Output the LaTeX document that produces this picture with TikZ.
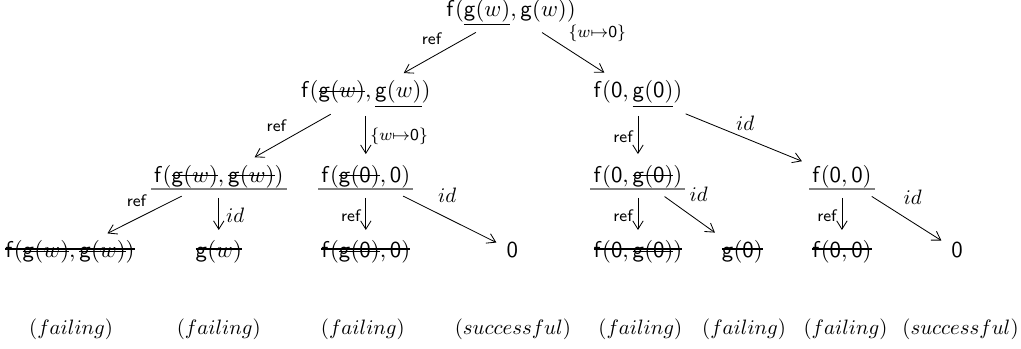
\documentclass[tikz,border=0pt]{standalone}
\usepackage{amsmath}
\usepackage{xcolor}
\usetikzlibrary{arrows.meta}
\newlength{\strklen}
\newlength{\glinelen}
\newcommand{\strk}[2][0.6ex]{\mbox{\settowidth{\strklen}{$#2$}\rlap{$#2$}\rule[#1]{\strklen}{0.5pt}}}
\newcommand{\gline}[1]{\mbox{\settowidth{\glinelen}{$#1$}\rlap{$#1$}\hspace*{-1.5pt}\textcolor{black!50}{\rule[-3.9pt]{\dimexpr\glinelen+3pt\relax}{1pt}}\hspace*{-1.5pt}}}
\newcommand{\fsym}{\mathsf{f}}
\newcommand{\gsym}{\mathsf{g}}
\newcommand{\zsym}{\mathsf{0}}
\newcommand{\sbst}{$\{w{\mapsto}\zsym\}$}
\tikzstyle{term}=[inner sep=2pt,anchor=base,font=\fontsize{11}{13}\selectfont]
\tikzstyle{outc}=[inner sep=2pt,anchor=base]
\tikzstyle{rw}=[->,>={Straight Barb[length=4pt,width=5pt]},shorten <=1.5pt,shorten >=3pt]
\tikzstyle{lbl}=[font=\footnotesize,inner sep=2pt]

\begin{document}
\begin{tikzpicture}[rw]
\useasboundingbox (0,0) rectangle (17.22,-5.87);
\node[term] (T) at (8.62,-0.27) {$\fsym(\underline{\gsym(w)},\gsym(w))$};
\node[term] (P) at (6.17,-1.65) {$\fsym(\strk{\gsym(w)},\underline{\gsym(w)})$};
\node[term] (Q) at (10.76,-1.65) {$\fsym(\zsym,\underline{\gsym(\zsym)})$};
\node[term] (P1) at (3.69,-3.07) {$\gline{\fsym(\strk{\gsym(w)},\strk{\gsym(w)})}$};
\node[term] (P2) at (6.17,-3.07) {$\gline{\fsym(\strk{\gsym(\zsym)},\zsym)}$};
\node[term] (Q1) at (10.76,-3.07) {$\gline{\fsym(\zsym,\strk{\gsym(\zsym)})}$};
\node[term] (Q2) at (14.20,-3.07) {$\gline{\fsym(\zsym,\zsym)}$};
\node[term] (P11) at (1.18,-4.35) {$\strk[0.85ex]{\fsym(\strk{\gsym(w)},\strk{\gsym(w)})}$};
\node[term] (P12) at (3.69,-4.35) {$\strk[0.85ex]{\gsym(w)}$};
\node[term] (P21) at (6.17,-4.35) {$\strk[0.85ex]{\fsym(\strk{\gsym(\zsym)},\zsym)}$};
\node[term] (P22) at (8.64,-4.35) {$\zsym$};
\node[term] (Q11) at (10.76,-4.35) {$\strk[0.85ex]{\fsym(\zsym,\strk{\gsym(\zsym)})}$};
\node[term] (Q12) at (12.52,-4.35) {$\strk[0.85ex]{\gsym(\zsym)}$};
\node[term] (Q21) at (14.20,-4.35) {$\strk[0.85ex]{\fsym(\zsym,\zsym)}$};
\node[term] (Q22) at (16.14,-4.35) {$\zsym$};
% outcome of each branch
\node[outc] (O1) at (1.20,-5.65) {$(failing)$};
\node[outc] (O2) at (3.69,-5.65) {$(failing)$};
\node[outc] (O3) at (6.12,-5.65) {$(failing)$};
\node[outc] (O4) at (8.65,-5.65) {$(successful)$};
\node[outc] (O5) at (10.80,-5.65) {$(failing)$};
\node[outc] (O6) at (12.55,-5.65) {$(failing)$};
\node[outc] (O7) at (14.26,-5.65) {$(failing)$};
\node[outc] (O8) at (16.20,-5.65) {$(successful)$};
\draw(T)--node[lbl,pos=0.4,above left]{\textsf{ref}}(P);
\draw(T)--node[lbl,pos=0.35,above right]{\sbst}(Q);
\draw(P)--node[lbl,above left]{\textsf{ref}}(P1);
\draw(P)--node[lbl,right]{\sbst}(P2);
\draw(Q)--node[lbl,left]{\textsf{ref}}(Q1);
\draw(Q)--node[above]{$id$}(Q2);
\draw(P1)--node[lbl,pos=0.4,above left]{\textsf{ref}}(P11);
\draw(P1)--node[right]{$id$}(P12);
\draw(P2)--node[lbl,left]{\textsf{ref}}(P21);
\draw(P2)--node[pos=0.3,above right]{$id$}(P22);
\draw(Q1)--node[lbl,left]{\textsf{ref}}(Q11);
\draw(Q1)--node[pos=0.35,above right]{$id$}(Q12);
\draw(Q2)--node[lbl,left]{\textsf{ref}}(Q21);
\draw(Q2)--node[pos=0.35,above right]{$id$}(Q22);
\end{tikzpicture}
\end{document}
